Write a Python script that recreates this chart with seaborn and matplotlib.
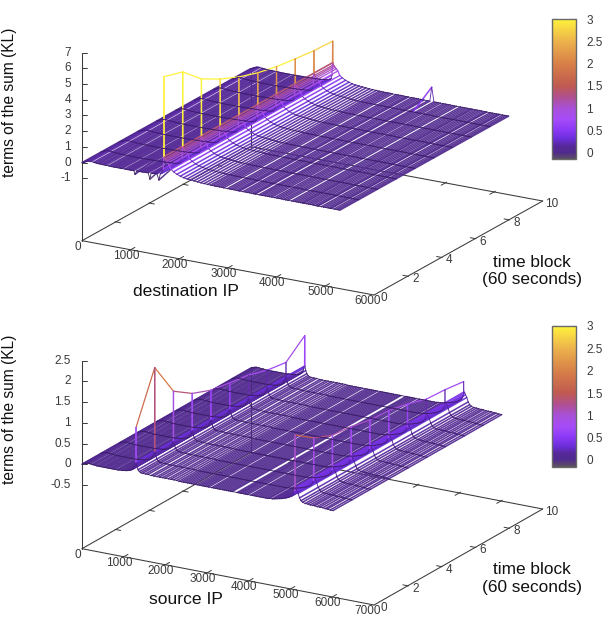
import numpy as np
import matplotlib
matplotlib.use("Agg")
import matplotlib.pyplot as plt
from matplotlib.collections import LineCollection
from matplotlib.colors import Normalize, LinearSegmentedColormap
from matplotlib.cm import ScalarMappable
import seaborn as sns

sns.set_theme(style="white")
plt.rcParams["font.family"] = ["Liberation Sans", "DejaVu Sans"]

# ---- data -------------------------------------------------------------
time_blocks = [0, 1.11, 2.22, 3.33, 4.44, 5.56, 6.67, 7.78, 8.89, 10]

# (IP index, KL term) for every address line of the destination surface
dst_lines = [
    (0, .00), (30, .03), (60, .08), (95, .13), (125, .17), (155, .18), (185, .18), (240, .16),
    (270, .15), (300, .14), (330, .13), (360, .13), (395, .12), (425, .12), (455, .12), (490, .11),
    (550, .11), (580, .11), (610, .10), (640, .10), (670, .10), (700, .10), (730, .10), (765, .10),
    (795, .10), (825, .10), (880, .10), (910, .10), (940, .10), (970, .10), (1000, .10), (1030, .11),
    (1065, .11), (1090, .11), (1125, .11), (1180, .12), (1210, .12), (1240, .12), (1270, .13),
    (1300, .13), (1330, .13), (1360, .14), (1395, .14), (1420, .15), (1450, .15), (1480, .16),
    (1510, .17), (1540, .18), (1580, .20), (1610, .22), (1635, .26), (1655, .34), (1670, .55),
    (1680, 1.35), (1685, 1.35), (1690, 1.35), (1700, 1.22), (1715, 1.15), (1735, 1.08), (1760, 1.00),
    (1790, .88), (1830, .62), (1880, .50), (1950, .38), (2020, .30), (2090, .24), (2160, .20),
    (2230, .18), (2300, .16), (2370, .14), (2440, .12), (2510, .11), (2580, .10), (2640, .09),
    (2685, .09), (2730, .08), (2775, .08), (2820, .08), (2865, .08), (2910, .07), (2990, .07),
    (3035, .07), (3080, .07), (3125, .07), (3170, .06), (3210, .06), (3240, .06), (3310, .06),
    (3355, .06), (3400, .06), (3445, .06), (3490, .05), (3530, .05), (3560, .05), (3640, .05),
    (3680, .05), (3720, .05), (3765, .05), (3810, .05), (3855, .05), (3900, .05), (3960, .05),
    (4005, .05), (4050, .05), (4095, .05), (4140, .04), (4185, .04), (4230, .04), (4310, .04),
    (4355, .04), (4400, .04), (4445, .04), (4490, .04), (4530, .04), (4560, .04), (4610, .04),
    (4655, .04), (4700, .04), (4745, .04), (4790, .03), (4830, .03), (4850, .03), (4920, .03),
    (4965, .03), (5010, .03), (5055, .03), (5095, .03), (5120, .03), (5180, .03), (5225, .03),
    (5265, .03), (5300, .03),
]
dst_peak_ip = 1685
dst_peak_terms = [6.44, 6.08, 4.97, 4.30, 3.77, 3.36, 3.09, 2.92, 2.78, 2.72]
dst_small_ip = 3720
dst_small_term = 0.96
dst_front_ips = [1090, 1395, 1580]
dst_front_terms = [-0.12, -0.25, -0.20]

# (IP index, KL term) for every address line of the source surface
src_lines = [
    (0, .00), (30, .02), (60, .03), (95, .04), (130, .05), (165, .05), (200, .05), (240, .04),
    (275, .04), (310, .04), (345, .03), (385, .03), (420, .03), (455, .03), (500, .03), (535, .03),
    (570, .03), (605, .03), (640, .03), (680, .03), (715, .03), (750, .03), (790, .03), (840, .03),
    (875, .03), (910, .04), (945, .04), (980, .04), (1015, .05), (1050, .05), (1085, .06), (1120, .07),
    (1155, .08), (1190, .10), (1225, .13), (1255, .18), (1275, .25), (1290, .30), (1295, .30),
    (1300, .30), (1320, .20), (1345, .13), (1375, .09), (1410, .07), (1450, .06), (1520, .06),
    (1580, .06), (1660, .05), (1720, .05), (1800, .05), (1860, .05), (1930, .05), (1990, .05),
    (2070, .05), (2130, .05), (2200, .05), (2270, .05), (2325, .04), (2380, .04), (2430, .04),
    (2480, .04), (2530, .04), (2580, .04), (2630, .04), (2680, .04), (2760, .04), (2810, .04),
    (2855, .04), (2900, .04), (2945, .04), (2990, .04), (3035, .04), (3110, .04), (3155, .04),
    (3200, .04), (3245, .04), (3290, .04), (3335, .04), (3380, .04), (3425, .04), (3470, .04),
    (3515, .04), (3560, .04), (3600, .04), (3720, .04), (3760, .04), (3800, .04), (3835, .04),
    (3880, .04), (3925, .04), (3970, .04), (4045, .04), (4090, .04), (4135, .04), (4180, .04),
    (4225, .04), (4270, .04), (4315, .04), (4360, .04), (4405, .04), (4450, .04), (4495, .05),
    (4560, .05), (4605, .06), (4650, .07), (4695, .08), (4740, .09), (4785, .10), (4830, .12),
    (4875, .13), (4920, .15), (4965, .17), (5010, .20), (5040, .22), (5065, .26), (5085, .30),
    (5100, .34), (5106, .34), (5112, .42), (5130, .40), (5150, .36), (5180, .30), (5215, .20),
    (5250, .14), (5290, .11), (5350, .09), (5415, .09), (5470, .08), (5530, .08), (5580, .08),
    (5640, .07), (5700, .07), (5770, .07), (5830, .06), (5880, .06), (5950, .05), (6017, .05),
]
src_peak_a_ip = 1295
src_peak_a_terms = [1.14, 2.33, 1.50, 1.19, 1.01, 0.93, 0.86, 0.72, 0.65, 1.04]
src_peak_b_ip = 5106
src_peak_b_terms = [1.70, 1.37, 1.18, 1.13, 1.03, 1.00, 0.90, 0.76, 0.73, 0.67]

dst_ticks = [0, 1000, 2000, 3000, 4000, 5000, 6000]
src_ticks = [0, 1000, 2000, 3000, 4000, 5000, 6000, 7000]
time_ticks = [0, 2, 4, 6, 8, 10]
dst_z_ticks = [-1, 0, 1, 2, 3, 4, 5, 6, 7]
src_z_ticks = [-0.5, 0, 0.5, 1, 1.5, 2, 2.5]
cbar_ticks = [0, 0.5, 1, 1.5, 2, 2.5, 3]

# palette stops: KL value and colour
stop_values = [-0.15, 0.0, 0.15, 0.3, 0.5, 0.75, 1.0, 1.25, 1.5, 2.0, 2.5, 3.0]
stop_colors = ["#5c5060", "#502a8c", "#56289a", "#6a2ed8", "#8a38f5", "#a64cf8", "#a850d8",
               "#b0508f", "#bf5a50", "#d88048", "#ecb24c", "#fff23c"]

# ---- drawing ----------------------------------------------------------
positions = [(v - stop_values[0]) / (stop_values[-1] - stop_values[0]) for v in stop_values]
kl_cmap = LinearSegmentedColormap.from_list("kl", list(zip(positions, stop_colors)), N=512)
kl_norm = Normalize(stop_values[0], stop_values[-1])

INK = "#3a3a3a"
TICK_PT = 8.5
LABEL_PT = 12.6


class Box:
    """Orthographic view of the (ip, time, KL) box onto panel pixels."""

    def __init__(self, origin, ip_far, time_far, ip_max, z_axis):
        self.o = np.array(origin, float)
        self.ix = (np.array(ip_far, float) - self.o) / ip_max
        self.tx = (np.array(time_far, float) - np.array(ip_far, float)) / 10.0
        self.ip_max = ip_max
        self.z0, self.z_scale, self.z_floor = z_axis

    def __call__(self, ip, t, z):
        ip, t, z = np.asarray(ip, float), np.asarray(t, float), np.asarray(z, float)
        px = self.o[0] + ip * self.ix[0] + t * self.tx[0]
        py = self.o[1] + ip * self.ix[1] + t * self.tx[1] - (z - self.z_floor) * self.z_scale
        return px, py


def polyline(box, ip, t, z):
    """Segments of one line, each with the mean height of its two ends."""
    px, py = box(ip, t, z)
    pts = np.column_stack([px, py])
    segs = np.stack([pts[:-1], pts[1:]], axis=1)
    return segs, 0.5 * (np.asarray(z)[:-1] + np.asarray(z)[1:])


def draw_surface(ax, box, ips, table):
    rows = np.array(time_blocks)
    # lines running along time: wide and slightly see-through on the flat part
    segs, means = zip(*[polyline(box, np.full(len(rows), ips[j]), rows, table[:, j])
                        for j in range(len(ips))])
    segs, means = np.concatenate(segs), np.concatenate(means)
    flat = means < 0.6
    cols = kl_cmap(kl_norm(means))
    cols[flat, 3] = 0.92
    ax.add_collection(LineCollection(segs, colors=cols, linewidths=np.where(flat, 1.12, 0.9),
                                     capstyle="round", zorder=3))
    # lines running along the address axis, on top and a shade darker on the flat part
    segs, means = zip(*[polyline(box, ips, np.full(len(ips), rows[k]), table[k])
                        for k in range(len(rows))])
    segs, means = np.concatenate(segs), np.concatenate(means)
    flat = means < 0.6
    cols = kl_cmap(kl_norm(means))
    cols[flat, :3] *= 0.72
    ax.add_collection(LineCollection(segs, colors=cols,
                                     linewidths=np.where(flat, 0.6, 0.9),
                                     capstyle="round", zorder=4))


def stroke(ax, box, ips, ts, zs, lw=0.75, z=2):
    px, py = box(ips, ts, zs)
    sns.lineplot(x=px, y=py, ax=ax, sort=False, estimator=None, color=INK, lw=lw,
                 legend=False, zorder=z)


def draw_frame(ax, box, ip_ticks, z_ticks, z_top):
    m, fl = box.ip_max, box.z_floor
    stroke(ax, box, [0, m], [0, 0], [fl, fl])
    stroke(ax, box, [m, m], [0, 10], [fl, fl])
    stroke(ax, box, [0, 0], [0, 10], [fl, fl])
    stroke(ax, box, [0, m], [10, 10], [fl, fl])
    stroke(ax, box, [0, 0], [0, 0], [fl, z_top])
    stroke(ax, box, [0, 0], [10, 10], [fl, 0])
    tlen = m / 60.0
    for v in ip_ticks[1:-1]:
        stroke(ax, box, [v, v], [-0.08, 0.25], [fl, fl], lw=0.7)
        stroke(ax, box, [v, v], [9.75, 10.08], [fl, fl], lw=0.7)
    for v in ip_ticks:
        px, py = box(v, 0, fl)
        dx = -6.5 if v == m else -4.5
        ax.text(px + dx, py + 6.2, f"{v}", ha="center", va="center", fontsize=TICK_PT,
                color=INK, zorder=6)
    for v in time_ticks[1:-1]:
        stroke(ax, box, [m - tlen, m + tlen * 0.15], [v, v], [fl, fl], lw=0.7)
        stroke(ax, box, [-tlen * 0.15, tlen], [v, v], [fl, fl], lw=0.7)
    for v in time_ticks:
        px, py = box(m, v, fl)
        shift = {0: 10.0, 10: 9.3}.get(v, 7.8)
        ax.text(px + shift, py + 3, f"{v}", ha="center", va="center",
                fontsize=TICK_PT, color=INK, zorder=6)
    for v in z_ticks:
        px, py = box(0, 0, v)
        # horizontal tick: compensate the address axis' downward slope with height
        reach = 5.3 / box.ix[0]
        stroke(ax, box, [0, reach], [0, 0], [v, v + reach * box.ix[1] / box.z_scale], lw=0.7)
        ax.text(px - 11, py, f"{v:g}", ha="right", va="center", fontsize=TICK_PT,
                color=INK, zorder=6)


def panel_axes(top_px, bottom_px):
    ax = fig.add_axes([0, 1 - bottom_px / 624, 1, (bottom_px - top_px) / 624])
    ax.set_xlim(0, 613)
    ax.set_ylim(bottom_px, top_px)
    ax.axis("off")
    return ax


def add_colorbar(top_px, bottom_px):
    cax = fig.add_axes([552.3 / 613, 1 - bottom_px / 624, 23.7 / 613, (bottom_px - top_px) / 624])
    cb = fig.colorbar(ScalarMappable(norm=kl_norm, cmap=kl_cmap), cax=cax, ticks=cbar_ticks)
    cb.ax.set_yticklabels([f"{v:g}" for v in cbar_ticks], fontsize=TICK_PT, color=INK)
    cb.ax.tick_params(direction="in", left=True, right=True, length=3.6, width=0.8,
                      color="#222222", pad=7.5)
    cb.outline.set_edgecolor("#6a6a6a")
    cb.outline.set_linewidth(1.0)


def annotate(ax, ip_label, ip_xy, zlabel_y, time_y):
    ax.text(10, zlabel_y, "terms of the sum (KL)", rotation=90, ha="center", va="center",
            fontsize=11.2, color="#111111", zorder=6)
    ax.text(*ip_xy, ip_label, ha="center", va="center", fontsize=LABEL_PT, color="#111111", zorder=6)
    ax.text(531.7, time_y, "time block", ha="center", va="center", fontsize=LABEL_PT - 0.2,
            color="#111111", zorder=6)
    ax.text(532, time_y + 17.6, "(60 seconds)", ha="center", va="center", fontsize=LABEL_PT - 0.2,
            color="#111111", zorder=6)


fig = plt.figure(figsize=(6.13, 6.24), dpi=100, facecolor="white")

# destination addresses
ax_dst = panel_axes(0, 312)
box_dst = Box((82, 240.7), (374, 295), (542.7, 201), 6000, (162.7, 15.71, -4.97))
dst_ip = np.array([p[0] for p in dst_lines], float)
dst_term = np.array([p[1] for p in dst_lines], float)
dst_table = np.tile(dst_term, (len(time_blocks), 1))
dst_table[:, np.argmin(abs(dst_ip - dst_peak_ip))] = dst_peak_terms
dst_table[-1, np.argmin(abs(dst_ip - dst_small_ip))] = dst_small_term
for ip_val, term in zip(dst_front_ips, dst_front_terms):
    dst_table[0, np.argmin(abs(dst_ip - ip_val))] = term
draw_frame(ax_dst, box_dst, dst_ticks, dst_z_ticks, 7)
draw_surface(ax_dst, box_dst, dst_ip, dst_table)
annotate(ax_dst, "destination IP", (186, 292), 102, 262.3)
add_colorbar(19, 159.3)

# source addresses
ax_src = panel_axes(312, 624)
box_src = Box((82, 548.7), (374, 605), (542.7, 509), 7000, (464.3, 41.4, -2.04))
src_ip = np.array([p[0] for p in src_lines], float)
src_term = np.array([p[1] for p in src_lines], float)
src_table = np.tile(src_term, (len(time_blocks), 1))
src_table[:, np.argmin(abs(src_ip - src_peak_a_ip))] = src_peak_a_terms
src_table[:, np.argmin(abs(src_ip - src_peak_b_ip))] = src_peak_b_terms
draw_frame(ax_src, box_src, src_ticks, src_z_ticks, 2.5)
draw_surface(ax_src, box_src, src_ip, src_table)
annotate(ax_src, "source IP", (185.7, 600), 409.5, 570)
add_colorbar(326, 466.7)

fig.savefig("out.png", dpi=100)
